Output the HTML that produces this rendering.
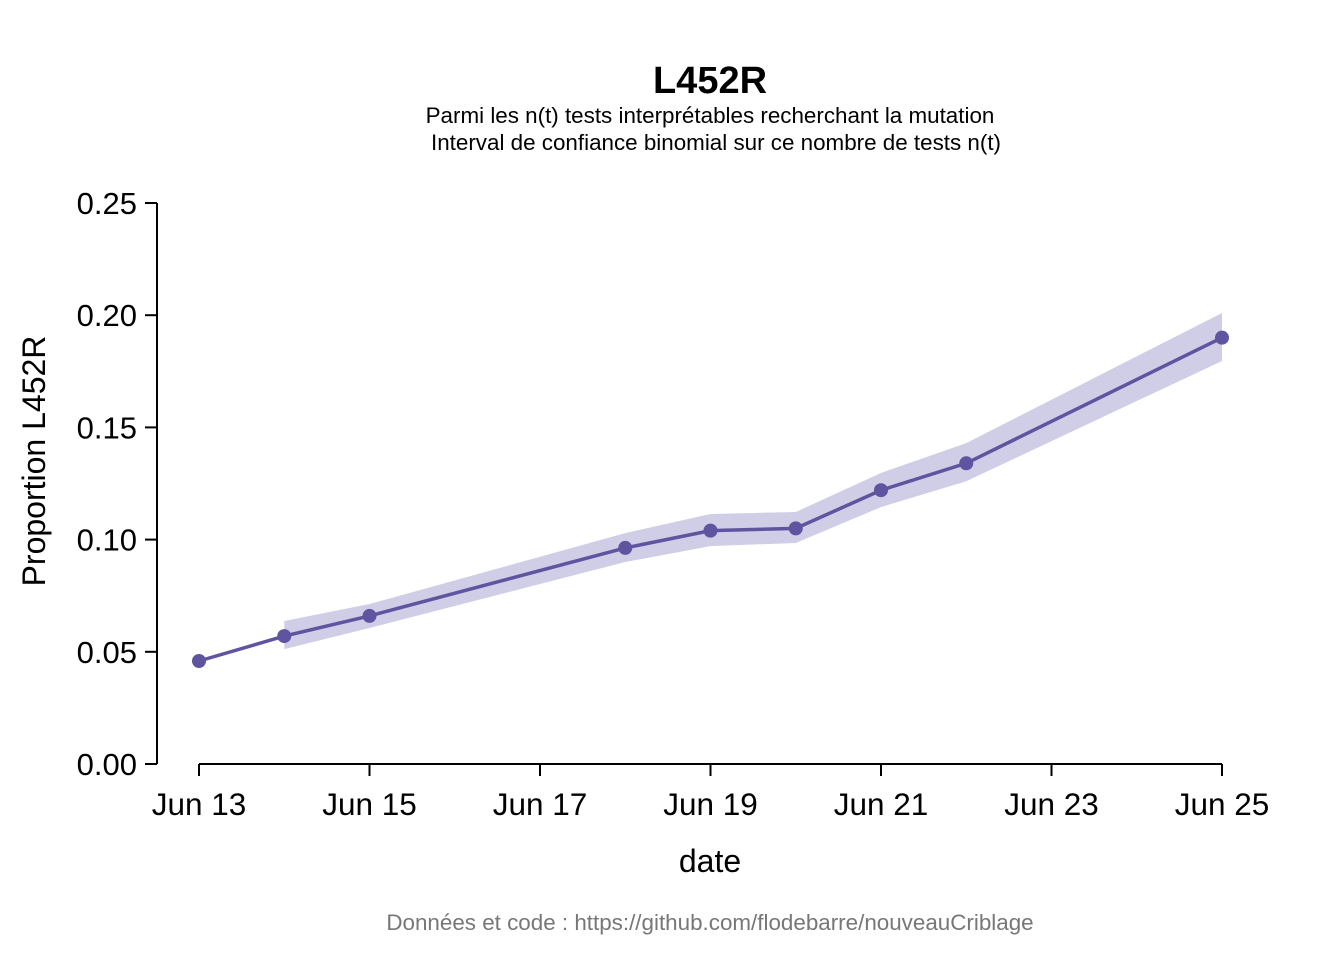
<!DOCTYPE html>
<html><head><meta charset="utf-8"><style>
body{margin:0;background:#fff;width:1344px;height:960px;overflow:hidden}
svg text{font-family:"Liberation Sans",Arial,sans-serif}
</style></head><body>
<svg id="chart" width="1344" height="960" xmlns="http://www.w3.org/2000/svg">
<text x="710" y="93" text-anchor="middle" font-size="38" font-weight="bold">L452R</text>
<text x="710" y="123" text-anchor="middle" font-size="22.4">Parmi les n(t) tests interprétables recherchant la mutation</text>
<text x="716" y="150" text-anchor="middle" font-size="22.4">Interval de confiance binomial sur ce nombre de tests n(t)</text>
<text transform="translate(45,461) rotate(-90)" text-anchor="middle" font-size="32">Proportion L452R</text>
<text x="710" y="872" text-anchor="middle" font-size="32">date</text>
<text x="710" y="930" text-anchor="middle" font-size="22.4" fill="#777">Données et code : https://github.com/flodebarre/nouveauCriblage</text>
<g id="axes"></g>
<g id="marks"></g>
</svg>
<script>
const days=[13,14,15,18,19,20,21,22,25];
const values=[0.0459,0.057,0.066,0.0963,0.104,0.105,0.122,0.134,0.190];
const upper=[null,0.0637,0.0713,0.1029,0.1114,0.1123,0.1297,0.143,0.201];
const lower=[null,0.0512,0.0606,0.090,0.0971,0.0985,0.1145,0.126,0.1796];
const yTicks=[0,0.05,0.10,0.15,0.20,0.25];
const xTicks=[13,15,17,19,21,23,25];
const x=d=>199+(d-13)*(1222-199)/12;
const y=v=>764-v*(764-203)/0.25;
const NS="http://www.w3.org/2000/svg";
const axes=document.getElementById('axes'),marks=document.getElementById('marks');
function mk(t,a,p){const e=document.createElementNS(NS,t);for(const k in a)e.setAttribute(k,a[k]);p.appendChild(e);return e;}
let yl=mk('line',{x1:157,x2:157,y1:y(0.25),y2:y(0),stroke:'#000','stroke-width':2},axes);


yTicks.forEach(v=>{
 const l=mk('line',{x1:145,x2:157,y1:y(v),y2:y(v),stroke:'#000','stroke-width':2},axes);
 
 
 const t=mk('text',{x:137,y:y(v)+11,'text-anchor':'end','font-size':31},axes);
 t.textContent=v.toFixed(2);
 
 
});
let xl=mk('line',{x1:x(13),x2:x(25),y1:764,y2:764,stroke:'#000','stroke-width':2},axes);


xTicks.forEach(d=>{
 const l=mk('line',{x1:x(d),x2:x(d),y1:764,y2:776,stroke:'#000','stroke-width':2},axes);
 
 
 const t=mk('text',{x:x(d),y:815,'text-anchor':'middle','font-size':31.5},axes);
 t.textContent='Jun '+d;
 
 
});
const idx=days.map((d,i)=>i).filter(i=>upper[i]!=null);
const bp=idx.map(i=>x(days[i])+','+y(upper[i])).concat(idx.slice().reverse().map(i=>x(days[i])+','+y(lower[i]))).join(' ');
const band=mk('polygon',{points:bp,fill:'#d0cde6'},marks);


const line=mk('polyline',{points:days.map((d,i)=>x(d)+','+y(values[i])).join(' '),fill:'none',stroke:'#5e54a0','stroke-width':3.5},marks);


days.forEach((d,i)=>{
 const c=mk('circle',{cx:x(d),cy:y(values[i]),r:7,fill:'#5e54a0'},marks);
 
 
});
</script>
</body></html>
